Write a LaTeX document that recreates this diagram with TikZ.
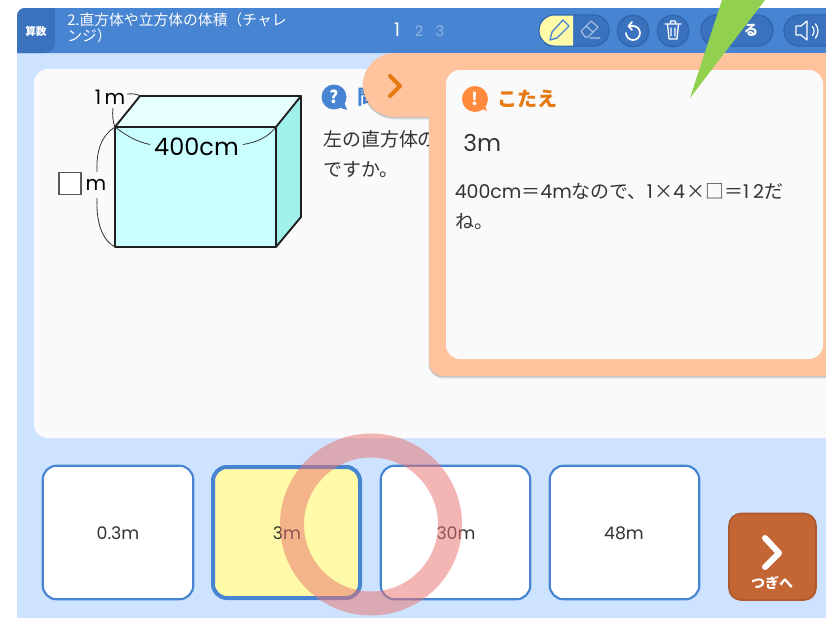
\documentclass[tikz,border=0pt]{standalone}
\usepackage{fontspec}
\setmainfont{Noto Sans CJK JP}
\newfontfamily\lat{Poppins}
\definecolor{hdr}{HTML}{4784D2}
\definecolor{hdrd}{HTML}{3A72BE}
\definecolor{hdrl}{HTML}{2F66AE}
\definecolor{sky}{HTML}{CEE3FF}
\definecolor{card}{HTML}{FAFAFA}
\definecolor{peach}{HTML}{FFC49E}
\definecolor{ora}{HTML}{E67A10}
\definecolor{oral}{HTML}{FF8A3C}
\definecolor{ink}{HTML}{333333}
\definecolor{yel}{HTML}{FFFAA8}
\definecolor{front}{HTML}{CAFFFF}
\definecolor{topf}{HTML}{E6FFFF}
\definecolor{sidef}{HTML}{A0F0EC}
\definecolor{nextb}{HTML}{C46534}
\definecolor{nextl}{HTML}{AD5A30}
\definecolor{wedge}{HTML}{92D050}
\definecolor{ringc}{HTML}{E87470}
\newcommand{\panelpath}{(840,53) -- (395,53) .. controls (377.4,53) and (363,67.4) .. (363,85) .. controls (363,102.6) and (377.4,117) .. (395,117) -- (429,117) -- (429,362) .. controls (429,370) and (435,376) .. (443,376) -- (840,376) -- cycle}
\tikzset{
  x=0.75pt,y=-0.75pt,
  txt/.style={inner sep=0pt,text=ink,font=\fontsize{14.2}{14}\selectfont},
  choice/.style={draw=hdr,line width=1.6pt,fill=white,rounded corners=10.5pt},
  opt/.style={inner sep=0pt,text=ink,font=\fontsize{13}{13}\selectfont\lat},
  round tool/.style={circle,draw=hdrl,line width=1pt,fill=hdrd,minimum size=23.5pt,inner sep=0pt},
  tool/.style={draw=white,line width=1pt,line join=round,line cap=round},
  pill/.style={fill=hdrd,draw=hdrl,line width=1pt,rounded corners=11.6pt},
  edge line/.style={draw=black!88,line width=1.4pt,line join=round},
  dim/.style={draw=ink,line width=0.6pt},
}
\begin{document}
\begin{tikzpicture}
\useasboundingbox (0,0) rectangle (826,618);
\fill[white] (0,0) rectangle (826,618);
\fill[sky] (17,50) rectangle (826,618);
% header
\fill[hdr] (17,53) -- (17,16) .. controls (17,11.6) and (20.6,8) .. (25,8) -- (826,8) -- (826,53) -- cycle;
\fill[hdrd] (17,53) -- (17,16) .. controls (17,11.6) and (20.6,8) .. (25,8) -- (55,8) -- (55,43) .. controls (55,48.5) and (50.5,53) .. (45,53) -- cycle;
\node[inner sep=0pt,text=white,font=\fontsize{8}{8}\selectfont\bfseries] (subj) at (36,31) {算数};
\node[inner sep=0pt,text=white,anchor=north west,align=left,font=\fontsize{11.1}{12}\selectfont] (title) at (67,13) {2.直方体や立方体の体積（チャレ\\ンジ）};
\node[inner sep=0pt,text=white,font=\fontsize{14}{14}\selectfont\lat] (p1) at (397,30) {1};
\node[inner sep=0pt,text=white,opacity=.4,font=\fontsize{11}{11}\selectfont\lat] (p2) at (419,31) {2};
\node[inner sep=0pt,text=white,opacity=.4,font=\fontsize{11}{11}\selectfont\lat] (p3) at (440,31) {3};
% toolbar
\draw[pill] (539,15) rectangle (609,46);
\begin{scope}
\clip (573,10) -- (573,50) -- (530,50) -- (530,10) -- cycle;
\fill[yel,rounded corners=11.6pt] (539.5,15.5) rectangle (609,45.5);
\end{scope}
\draw[hdr,line width=1pt,line join=round] (550,40) -- (552,32) -- (563,20) -- (569,26) -- (557,38) -- cycle;
\draw[white,opacity=.6,line width=.8pt,line join=round] (581,31) -- (591,21) -- (598,27) -- (588,37) -- (585,37) -- cycle (586,26) -- (593,32) (590,38) -- (600,38);
\node[round tool] (undo) at (633,31) {};
\draw[tool,line width=1.3pt] (633,26) arc[start angle=-90,end angle=180,radius=7];
\draw[tool,line width=1.3pt] (633,26) -- (628.5,26) (632,22) -- (628.5,26) -- (632,30);
\node[round tool] (trash) at (673,31) {};
\draw[tool] (665,24) -- (681,24) (670,24) -- (671,21) -- (675,21) -- (676,24) (667.5,24) -- (669,39) -- (677,39) -- (678.5,24) (671,28) -- (671,36) (675,28) -- (675,36);
\draw[pill] (701,15) rectangle (773,46);
\node[inner sep=0pt,text=white,font=\fontsize{10.8}{11}\selectfont\bfseries] (close) at (751,30) {る};
\draw[pill] (784,15) rectangle (840,46);
\draw[tool,line width=.9pt] (796,26) -- (801,26) -- (807,21) -- (807,40) -- (801,35) -- (796,35) -- cycle;
\draw[tool,line width=.9pt] (812.4,26.5) arc[start angle=-40,end angle=40,radius=7];
\draw[tool,line width=.9pt] (815.4,23.9) arc[start angle=-40,end angle=40,radius=11];
% main card
\fill[card,rounded corners=10.5pt] (34,69) rectangle (840,438);
% question
\fill[hdr] (334,97) circle[radius=12.5];
\fill[hdr] (338,107) -- (347,110) -- (344,102) -- cycle;
\node[inner sep=0pt,text=white,font=\fontsize{13}{13}\selectfont\bfseries] (qm) at (334,97) {?};
\node[inner sep=0pt,anchor=west,text=hdr,font=\fontsize{15}{15}\selectfont\bfseries] (qh) at (357,97) {問};
\node[txt,anchor=west] (q1) at (323,139.5) {左の直方体の};
\node[txt,anchor=west] (q2) at (323,170) {ですか。};
% box
\fill[topf] (115,127) -- (140,96) -- (301,96) -- (276,127) -- cycle;
\fill[front] (115,127) rectangle (276,247);
\fill[sidef] (276,127) -- (301,96) -- (301,217) -- (276,247) -- cycle;
\draw[edge line] (115,127) rectangle (276,247);
\draw[edge line] (115,127) -- (140,96) -- (301,96) -- (276,127) (301,96) -- (301,217) -- (276,247);
% dimension labels
\draw[dim] (115,127) .. controls (128,137) and (138,142) .. (150,144.5);
\draw[dim] (276,127) .. controls (268,137) and (258,142) .. (243,144.5);
\node[inner sep=0pt,text=black,font=\fontsize{18}{18}\selectfont\lat] (w) at (196.5,146.5) {400cm};
\draw[dim] (113,108) .. controls (112,115) and (113,122) .. (115,127);
\draw[dim] (127,94) .. controls (133,93.5) and (137,94) .. (140,96);
\node[inner sep=0pt,text=black,font=\fontsize{15}{16}\selectfont\lat] (d) at (110,97) {1\,m};
\draw[dim] (115,127) .. controls (102,135) and (96,150) .. (97,172);
\draw[dim] (115,247) .. controls (102,240) and (96,222) .. (97,198);
\node[draw=black!65,line width=.8pt,fill=white,minimum size=16.5pt,inner sep=0pt] (sq) at (70,183.5) {};
\node[inner sep=0pt,text=black,font=\fontsize{15}{16}\selectfont\lat] (h) at (96,185) {m};
% choices
\draw[choice] (42.7,465.7) rectangle (193.3,599.3);
\node[opt] (c1) at (118,533) {0.3m};
\draw[choice,fill=yel,line width=3pt] (213,467) rectangle (360,598);
\node[opt] (c2) at (287,533) {3m};
\draw[choice] (380.7,465.7) rectangle (530.3,599.3);
\node[opt] (c3) at (456,533) {30m};
\draw[choice] (549.7,465.7) rectangle (699.3,599.3);
\node[opt] (c4) at (624,533) {48m};
% next
\draw[fill=nextb,draw=nextl,line width=1.2pt,rounded corners=9pt] (729,513.5) rectangle (816,600);
\draw[white,line width=4.5pt,line cap=round,line join=round] (765,538) -- (779,553) -- (765,567);
\node[inner sep=0pt,text=white,font=\fontsize{10.5}{10}\selectfont\bfseries] (nx) at (772,583) {つぎへ};
% answer panel
\fill[black,opacity=.1] [shift={(0,2.5)}] \panelpath;
\fill[black,opacity=.14] [shift={(-.5,1.2)}] \panelpath;
\fill[peach] \panelpath;
\draw[ora,line width=3pt,line cap=round,line join=round] (390,76) -- (400,86) -- (390,96);
\fill[card,rounded corners=10.5pt] (446,70) rectangle (823,359);
\fill[oral] (475,99) circle[radius=13];
\fill[oral] (480,108) -- (487,111) -- (484,103) -- cycle;
\node[inner sep=0pt,text=white,font=\fontsize{13}{13}\selectfont\bfseries] (am) at (475,98.5) {!};
\node[inner sep=0pt,anchor=west,text=ora,font=\fontsize{15}{15}\selectfont\bfseries] (ah) at (497,99) {こたえ};
\node[txt,anchor=west,font=\fontsize{17.5}{17}\selectfont\lat] (a1) at (463,143) {3m};
\node[txt,anchor=west] (a2) at (454.5,191) {{\lat 400cm}＝{\lat 4m}なので、{\lat 1}\kern1pt×{\lat 4}\kern1pt×□＝{\lat 1\kern3pt2}だ};
\node[txt,anchor=west] (a3) at (455,222) {ね。};
% ring
\fill[ringc,opacity=.52,even odd rule] (371,524.5) circle[radius=91] (371,524.5) circle[radius=67];
% wedge
\fill[wedge] (690,98) -- (722,0) -- (765,0) -- cycle;
\end{tikzpicture}
\end{document}
